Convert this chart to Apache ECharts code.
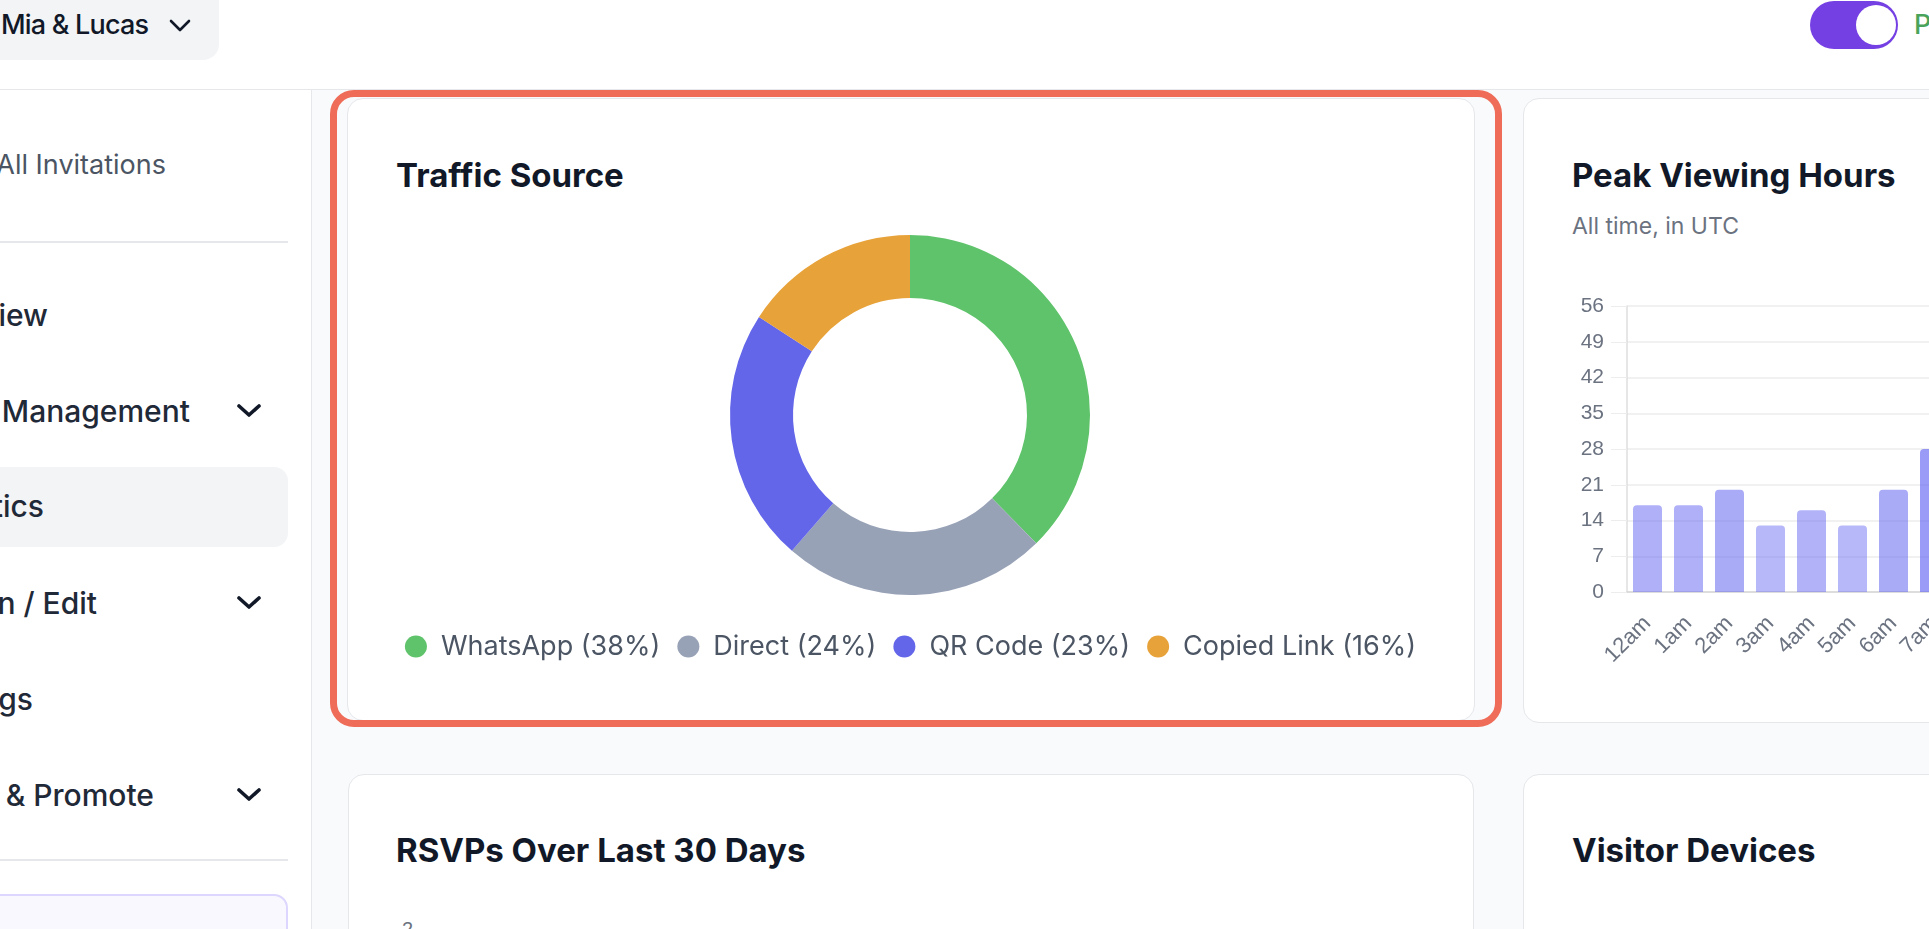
<!DOCTYPE html>
<html>
<head>
<meta charset="utf-8">
<script src="https://cdn.jsdelivr.net/npm/echarts@6/dist/echarts.min.js"></script>
<style>
  html, body { margin: 0; padding: 0; }
  body {
    width: 1929px; height: 929px; overflow: hidden; position: relative;
    background: #f9fafb; font-family: Inter, "Noto Sans", sans-serif;
  }
  .abs { position: absolute; }
  .header { left: 0; top: 0; width: 1929px; height: 89px; background: #fff; border-bottom: 1px solid #e5e7eb; }
  .pill { left: 0; top: 0; width: 219px; height: 60px; background: #f3f4f6; border-radius: 0 0 16px 0; }
  .pill span { position: absolute; left: 1px; top: 6px; font-size: 27px; letter-spacing: -0.8px; line-height: 38px; font-weight: 500; color: #111827; white-space: nowrap; }
  .sidebar { left: 0; top: 90px; width: 312px; height: 839px; background: #fff; border-right: 1px solid #e5e7eb; box-sizing: border-box; }
  .nav { position: absolute; white-space: nowrap; font-size: 30px; line-height: 40px; color: #1f2937; font-weight: 500; }
  .chev { position: absolute; left: 236px; }
  .divider { position: absolute; left: 0; width: 288px; height: 2px; background: #e5e7eb; }
  .card { background: #fff; border: 1px solid #e5e7eb; border-radius: 16px; box-sizing: border-box; }
  .title { position: absolute; font-size: 33px; line-height: 40px; font-weight: 700; color: #111827; white-space: nowrap; }
</style>
</head>
<body>
<div class="abs header"></div>
<div class="abs pill"><span>Mia &amp; Lucas</span>
  <svg class="abs" style="left:169px;top:18px" width="22" height="16" viewBox="0 0 22 16"><polyline points="2,3 11,12 20,3" fill="none" stroke="#111827" stroke-width="2.6" stroke-linecap="round" stroke-linejoin="round"/></svg>
</div>
<div class="abs" style="left:1810px;top:1px;width:88px;height:48px;border-radius:24px;background:#7540e3"></div>
<div class="abs" style="left:1856px;top:5px;width:40px;height:40px;border-radius:20px;background:#fff"></div>
<div class="abs" style="left:1914px;top:6px;font-size:27px;line-height:38px;font-weight:500;color:#4aa35a;white-space:nowrap">Published</div>

<div class="abs sidebar">
  <div class="nav" style="right:145px;top:55px;font-size:27px;color:#4b5563;font-weight:400">All Invitations</div>
  <div class="divider" style="top:151px"></div>
  <div class="nav" style="right:263px;top:205px">Overview</div>
  <div class="nav" style="right:121px;top:301px">Guest Management</div>
  <svg class="chev" style="top:313px" width="26" height="16" viewBox="0 0 26 16"><polyline points="3,3 13,12 23,3" fill="none" stroke="#111827" stroke-width="3.6" stroke-linecap="round" stroke-linejoin="round"/></svg>
  <div class="abs" style="left:0;top:377px;width:288px;height:80px;background:#f3f4f6;border-radius:0 14px 14px 0"></div>
  <div class="nav" style="right:267px;top:396px">Analytics</div>
  <div class="nav" style="right:214px;top:493px">Design / Edit</div>
  <svg class="chev" style="top:505px" width="26" height="16" viewBox="0 0 26 16"><polyline points="3,3 13,12 23,3" fill="none" stroke="#111827" stroke-width="3.6" stroke-linecap="round" stroke-linejoin="round"/></svg>
  <div class="nav" style="right:278px;top:589px">Settings</div>
  <div class="nav" style="right:157px;top:685px">Share &amp; Promote</div>
  <svg class="chev" style="top:697px" width="26" height="16" viewBox="0 0 26 16"><polyline points="3,3 13,12 23,3" fill="none" stroke="#111827" stroke-width="3.6" stroke-linecap="round" stroke-linejoin="round"/></svg>
  <div class="divider" style="top:769px"></div>
  <div class="abs" style="left:-20px;top:804px;width:308px;height:120px;border:2px solid #ddd6fe;background:#faf8ff;border-radius:14px;box-sizing:border-box"></div>
</div>

<div class="abs card" style="left:347px;top:98px;width:1128px;height:623px"></div>
<div class="abs card" style="left:1523px;top:98px;width:1128px;height:625px"></div>
<div class="abs card" style="left:348px;top:774px;width:1126px;height:300px"></div>
<div class="abs card" style="left:1523px;top:774px;width:1126px;height:300px"></div>

<div class="abs" style="left:330px;top:90px;width:1172px;height:637px;border:7px solid #ee6c58;border-radius:24px;box-sizing:border-box"></div>

<div class="title" style="left:396px;top:155px">Traffic Source</div>
<div class="title" style="left:1572px;top:155px">Peak Viewing Hours</div>
<div class="abs" style="left:1572px;top:212px;font-size:23px;line-height:28px;color:#6b7280;white-space:nowrap">All time, in UTC</div>
<div class="title" style="left:396px;top:830px">RSVPs Over Last 30 Days</div>
<div class="title" style="left:1572px;top:830px">Visitor Devices</div>
<div class="abs" style="left:402px;top:919px;font-family:'Liberation Sans',Arial,sans-serif;font-size:20px;line-height:20px;color:#6b7280">2</div>

<div id="donut" class="abs" style="left:347px;top:99px;width:1127px;height:621px"></div>
<div id="hours" class="abs" style="left:1523px;top:98px;width:1200px;height:625px"></div>

<script>
// traffic source (percent of visits)
var sourceNames = ['WhatsApp', 'Direct', 'QR Code', 'Copied Link'];
var sourceShares = [38, 24, 23, 16];
var sourceColors = ['#5ec36a', '#98a2b7', '#6366e9', '#e8a23a'];

// peak viewing hours, only the first 8 hours are visible
var hourLabels = ['12am', '1am', '2am', '3am', '4am', '5am', '6am', '7am', '8am', '9am', '10am', '11am',
                  '12pm', '1pm', '2pm', '3pm', '4pm', '5pm', '6pm', '7pm', '8pm', '9pm', '10pm', '11pm'];
var hourViews = [17, 17, 20, 13, 16, 13, 20, 28];
var yTicks = { min: 0, max: 56, step: 7 };

var donut = echarts.init(document.getElementById('donut'));
var hours = echarts.init(document.getElementById('hours'));

var total = sourceShares.reduce(function (a, b) { return a + b; }, 0);
var pieData = [];
for (var i = 0; i < sourceNames.length; i++) {
  pieData.push({ name: sourceNames[i], value: sourceShares[i], itemStyle: { color: sourceColors[i] } });
}

donut.setOption({
  animation: false,
  legend: {
    top: 529,
    left: 'center',
    icon: 'circle',
    itemWidth: 40,
    itemHeight: 22,
    itemGap: 17,
    textStyle: { fontSize: 27, color: '#4b5563', fontFamily: 'Inter' },
    formatter: function (name) {
      var idx = sourceNames.indexOf(name);
      return name + ' (' + Math.round(sourceShares[idx] / total * 100) + '%)';
    }
  },
  series: [{
    type: 'pie',
    radius: [117, 180],
    center: [563, 316],
    startAngle: 90,
    clockwise: true,
    label: { show: false },
    labelLine: { show: false },
    emphasis: { disabled: true },
    data: pieData
  }]
});

var barData = hourViews.map(function (v) {
  return { value: v, itemStyle: { color: 'rgba(99,102,241,' + (0.3 + 0.7 * v / yTicks.max).toFixed(3) + ')' } };
});

hours.setOption({
  animation: false,
  grid: { left: 104, top: 208, width: 984, height: 286 },
  xAxis: {
    type: 'category',
    data: hourLabels,
    axisLine: { lineStyle: { color: '#d6d6d6', width: 1.5 } },
    axisTick: { show: false },
    axisLabel: { rotate: 45, color: '#6b7280', fontSize: 22, margin: 28, fontFamily: 'Liberation Sans' }
  },
  yAxis: {
    type: 'value',
    min: yTicks.min,
    max: yTicks.max,
    interval: yTicks.step,
    axisLine: { show: true, lineStyle: { color: '#dedede', width: 1.5 } },
    axisTick: { show: true, length: 16, lineStyle: { color: '#ededed' } },
    splitLine: { lineStyle: { color: '#ededed', width: 1.5 } },
    axisLabel: { color: '#6b7280', fontSize: 21, margin: 23, fontFamily: 'Liberation Sans' }
  },
  series: [{
    type: 'bar',
    barWidth: 29,
    itemStyle: { borderRadius: [4, 4, 0, 0] },
    data: barData
  }]
});
</script>
</body>
</html>
